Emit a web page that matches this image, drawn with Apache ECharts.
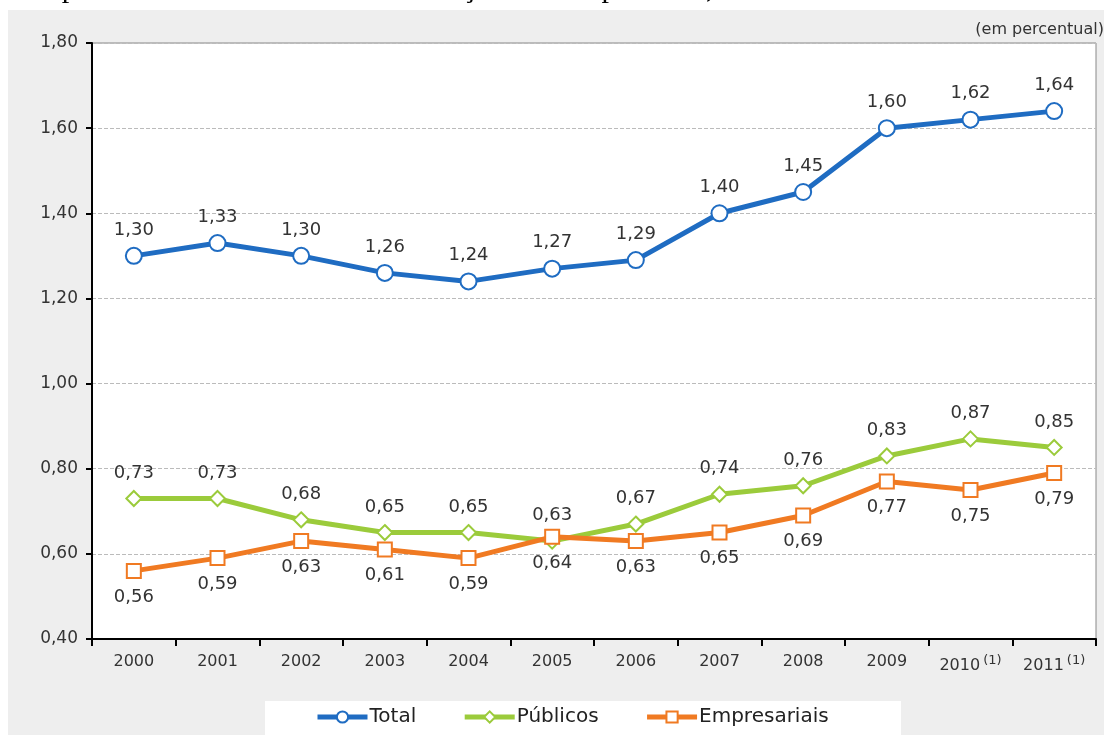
<!DOCTYPE html>
<html>
<head>
<meta charset="utf-8">
<script src="https://cdn.jsdelivr.net/npm/echarts@6/dist/echarts.min.js"></script>
<style>
html,body{margin:0;padding:0;background:#fff;}
#main{width:1104px;height:735px;}
</style>
</head>
<body>
<div id="main"></div>
<script>
var years = ['2000','2001','2002','2003','2004','2005','2006','2007','2008','2009','2010','2011'];
var footnoted = ['2010','2011'];
var total = [1.30,1.33,1.30,1.26,1.24,1.27,1.29,1.40,1.45,1.60,1.62,1.64];
var publicos = [0.73,0.73,0.68,0.65,0.65,0.63,0.67,0.74,0.76,0.83,0.87,0.85];
var empresariais = [0.56,0.59,0.63,0.61,0.59,0.64,0.63,0.65,0.69,0.77,0.75,0.79];

function br(v){ return v.toFixed(2).replace('.', ','); }

var font = 'DejaVu Sans';
var chart = echarts.init(document.getElementById('main'));

var option = {
	backgroundColor: '#fff',
	animation: false,
	textStyle: {fontFamily: font},
	graphic: [
		{type:'rect', z:-10, shape:{x:8,y:10,width:1096,height:725}, style:{fill:'#eeeeee'}},
		{type:'text', z:5, style:{x:20, y:4, text:'Dispêndio nacional em C&T em relação ao PIB por setor, 2000-2011', font:'30px "Liberation Serif"', fill:'#000', verticalAlign:'bottom'}},
		{type:'text', z:5, style:{x:1104, y:30, text:'(em percentual)', font:'16px "DejaVu Sans"', fill:'#333', align:'right', verticalAlign:'middle'}},
		{type:'rect', z:1, shape:{x:265,y:701,width:636,height:40}, style:{fill:'#fff'}}
	],
	grid: {left:92, top:43, right:8, bottom:96, show:true, backgroundColor:'#fff', borderColor:'#888', borderWidth:1},
	legend: {
		data: ['Total','Públicos','Empresariais'],
		left: 315, top: 707, z: 3, padding: 0,
		itemWidth: 50, itemHeight: 14, itemGap: 46,
		lineStyle: {width: 5},
		textStyle: {fontSize: 20, color:'#222', fontFamily: font, padding:[0,0,0,-3]}
	},
	xAxis: {
		type: 'category',
		data: years,
		boundaryGap: true,
		axisLine: {lineStyle:{color:'#000', width:2}},
		axisTick: {show:true, length:7, lineStyle:{color:'#000', width:2}},
		axisLabel: {
			interval: 0,
			margin: 15, fontSize: 16, color:'#333',
			formatter: function(v){ return footnoted.indexOf(v) >= 0 ? v + '{sup|(1)}' : v; },
			rich: {sup: {fontSize: 13, color:'#333', verticalAlign:'bottom', padding:[0,0,10,3]}}
		},
		splitLine: {show:false}
	},
	yAxis: {
		type: 'value',
		min: 0.4, max: 1.8, interval: 0.2,
		axisLine: {show:true, lineStyle:{color:'#000', width:2}},
		axisTick: {show:true, length:6, lineStyle:{color:'#000', width:2}},
		axisLabel: {margin: 14, fontSize: 17, color:'#333', formatter: br},
		splitLine: {show:true, lineStyle:{color:'#bbb', type:'dashed'}}
	},
	series: [
		{
			name: 'Total', type: 'line', data: total,
			symbol: 'circle', symbolSize: 16,
			lineStyle: {color:'#1f6cc2', width:5},
			itemStyle: {color:'#fff', borderColor:'#1f6cc2', borderWidth:2},
			label: {show:true, position:'top', distance:8, fontSize:18, color:'#333', formatter: function(p){ return br(p.value); }},
			z: 4
		},
		{
			name: 'Públicos', type: 'line', data: publicos,
			symbol: 'diamond', symbolSize: 15,
			lineStyle: {color:'#9bcb3b', width:5},
			itemStyle: {color:'#fff', borderColor:'#9bcb3b', borderWidth:2},
			label: {show:true, position:'top', distance:8, fontSize:18, color:'#333', formatter: function(p){ return br(p.value); }},
			z: 3
		},
		{
			name: 'Empresariais', type: 'line', data: empresariais,
			symbol: 'rect', symbolSize: 14,
			lineStyle: {color:'#f07a22', width:5},
			itemStyle: {color:'#fff', borderColor:'#f07a22', borderWidth:2},
			label: {show:true, position:'bottom', distance:9, fontSize:18, color:'#333', formatter: function(p){ return br(p.value); }},
			z: 4
		}
	]
};
chart.setOption(option);
</script>
</body>
</html>
